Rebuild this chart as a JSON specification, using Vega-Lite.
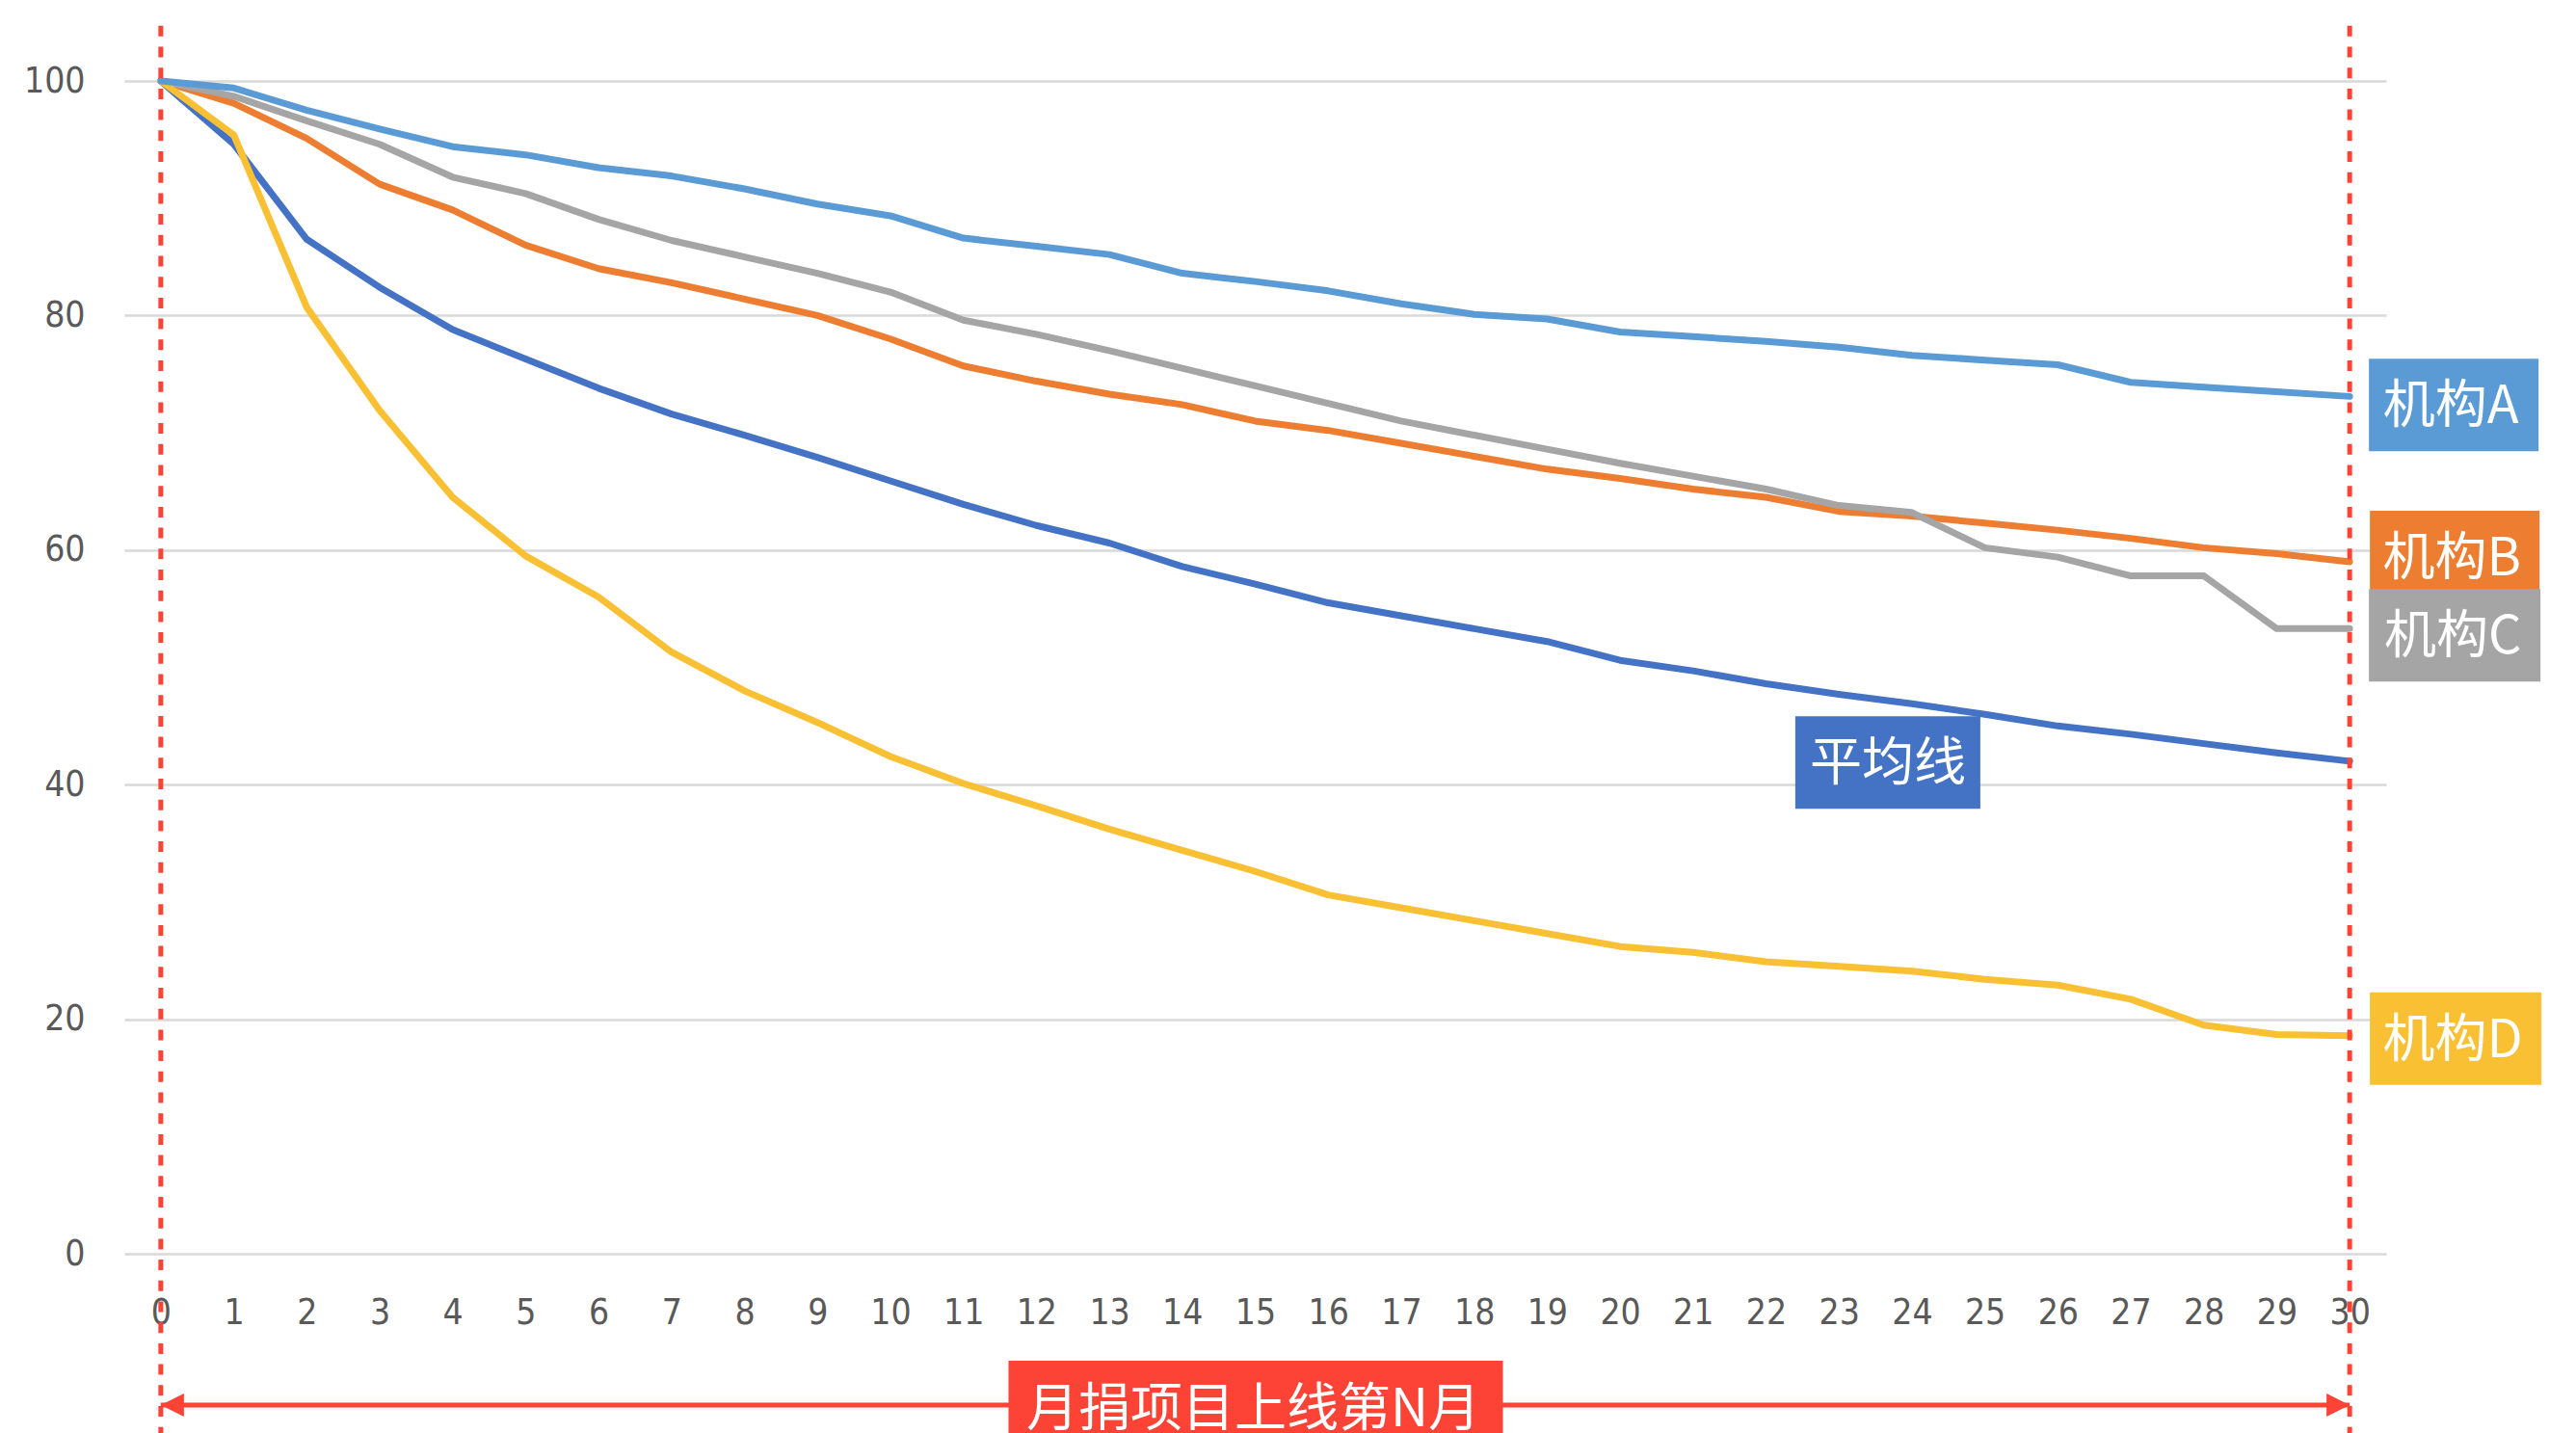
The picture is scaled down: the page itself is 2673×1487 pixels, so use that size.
{
  "$schema": "https://vega.github.io/schema/vega-lite/v6.json",
  "width": 2347,
  "height": 1217,
  "autosize": {"type": "none"},
  "padding": {"left": 129, "top": 84, "right": 197, "bottom": 186},
  "background": "white",
  "config": {"view": {"stroke": null}},
  "datasets": {
    "curves": [
      {"month":0,"series":"平均线","value":100},{"month":1,"series":"平均线","value":94.6},{"month":2,"series":"平均线","value":86.5},{"month":3,"series":"平均线","value":82.4},{"month":4,"series":"平均线","value":78.8},{"month":5,"series":"平均线","value":76.3},{"month":6,"series":"平均线","value":73.8},{"month":7,"series":"平均线","value":71.6},{"month":8,"series":"平均线","value":69.8},{"month":9,"series":"平均线","value":67.9},{"month":10,"series":"平均线","value":65.9},{"month":11,"series":"平均线","value":63.9},{"month":12,"series":"平均线","value":62.1},{"month":13,"series":"平均线","value":60.6},{"month":14,"series":"平均线","value":58.6},{"month":15,"series":"平均线","value":57.1},{"month":16,"series":"平均线","value":55.5},{"month":17,"series":"平均线","value":54.4},{"month":18,"series":"平均线","value":53.3},{"month":19,"series":"平均线","value":52.2},{"month":20,"series":"平均线","value":50.6},{"month":21,"series":"平均线","value":49.7},{"month":22,"series":"平均线","value":48.6},{"month":23,"series":"平均线","value":47.7},{"month":24,"series":"平均线","value":46.9},{"month":25,"series":"平均线","value":46.0},{"month":26,"series":"平均线","value":45.0},{"month":27,"series":"平均线","value":44.3},{"month":28,"series":"平均线","value":43.5},{"month":29,"series":"平均线","value":42.7},{"month":30,"series":"平均线","value":42.0},
      {"month":0,"series":"机构B","value":100},{"month":1,"series":"机构B","value":98.1},{"month":2,"series":"机构B","value":95.1},{"month":3,"series":"机构B","value":91.2},{"month":4,"series":"机构B","value":89.0},{"month":5,"series":"机构B","value":86.0},{"month":6,"series":"机构B","value":84.0},{"month":7,"series":"机构B","value":82.8},{"month":8,"series":"机构B","value":81.4},{"month":9,"series":"机构B","value":80.0},{"month":10,"series":"机构B","value":78.0},{"month":11,"series":"机构B","value":75.7},{"month":12,"series":"机构B","value":74.4},{"month":13,"series":"机构B","value":73.3},{"month":14,"series":"机构B","value":72.4},{"month":15,"series":"机构B","value":71.0},{"month":16,"series":"机构B","value":70.2},{"month":17,"series":"机构B","value":69.1},{"month":18,"series":"机构B","value":68.0},{"month":19,"series":"机构B","value":66.9},{"month":20,"series":"机构B","value":66.1},{"month":21,"series":"机构B","value":65.2},{"month":22,"series":"机构B","value":64.5},{"month":23,"series":"机构B","value":63.3},{"month":24,"series":"机构B","value":62.9},{"month":25,"series":"机构B","value":62.3},{"month":26,"series":"机构B","value":61.7},{"month":27,"series":"机构B","value":61.0},{"month":28,"series":"机构B","value":60.2},{"month":29,"series":"机构B","value":59.7},{"month":30,"series":"机构B","value":59.0},
      {"month":0,"series":"机构C","value":100},{"month":1,"series":"机构C","value":98.7},{"month":2,"series":"机构C","value":96.6},{"month":3,"series":"机构C","value":94.6},{"month":4,"series":"机构C","value":91.8},{"month":5,"series":"机构C","value":90.4},{"month":6,"series":"机构C","value":88.2},{"month":7,"series":"机构C","value":86.4},{"month":8,"series":"机构C","value":85.0},{"month":9,"series":"机构C","value":83.6},{"month":10,"series":"机构C","value":82.0},{"month":11,"series":"机构C","value":79.6},{"month":12,"series":"机构C","value":78.4},{"month":13,"series":"机构C","value":77.0},{"month":14,"series":"机构C","value":75.5},{"month":15,"series":"机构C","value":74.0},{"month":16,"series":"机构C","value":72.5},{"month":17,"series":"机构C","value":71.0},{"month":18,"series":"机构C","value":69.8},{"month":19,"series":"机构C","value":68.6},{"month":20,"series":"机构C","value":67.4},{"month":21,"series":"机构C","value":66.3},{"month":22,"series":"机构C","value":65.2},{"month":23,"series":"机构C","value":63.8},{"month":24,"series":"机构C","value":63.2},{"month":25,"series":"机构C","value":60.2},{"month":26,"series":"机构C","value":59.4},{"month":27,"series":"机构C","value":57.8},{"month":28,"series":"机构C","value":57.8},{"month":29,"series":"机构C","value":53.3},{"month":30,"series":"机构C","value":53.3},
      {"month":0,"series":"机构D","value":100},{"month":1,"series":"机构D","value":95.4},{"month":2,"series":"机构D","value":80.7},{"month":3,"series":"机构D","value":71.9},{"month":4,"series":"机构D","value":64.5},{"month":5,"series":"机构D","value":59.5},{"month":6,"series":"机构D","value":56.0},{"month":7,"series":"机构D","value":51.3},{"month":8,"series":"机构D","value":48.0},{"month":9,"series":"机构D","value":45.3},{"month":10,"series":"机构D","value":42.4},{"month":11,"series":"机构D","value":40.1},{"month":12,"series":"机构D","value":38.2},{"month":13,"series":"机构D","value":36.2},{"month":14,"series":"机构D","value":34.4},{"month":15,"series":"机构D","value":32.6},{"month":16,"series":"机构D","value":30.6},{"month":17,"series":"机构D","value":29.5},{"month":18,"series":"机构D","value":28.4},{"month":19,"series":"机构D","value":27.3},{"month":20,"series":"机构D","value":26.2},{"month":21,"series":"机构D","value":25.7},{"month":22,"series":"机构D","value":24.9},{"month":23,"series":"机构D","value":24.5},{"month":24,"series":"机构D","value":24.1},{"month":25,"series":"机构D","value":23.4},{"month":26,"series":"机构D","value":22.9},{"month":27,"series":"机构D","value":21.7},{"month":28,"series":"机构D","value":19.5},{"month":29,"series":"机构D","value":18.7},{"month":30,"series":"机构D","value":18.6},
      {"month":0,"series":"机构A","value":100},{"month":1,"series":"机构A","value":99.4},{"month":2,"series":"机构A","value":97.5},{"month":3,"series":"机构A","value":95.9},{"month":4,"series":"机构A","value":94.4},{"month":5,"series":"机构A","value":93.7},{"month":6,"series":"机构A","value":92.6},{"month":7,"series":"机构A","value":91.9},{"month":8,"series":"机构A","value":90.8},{"month":9,"series":"机构A","value":89.5},{"month":10,"series":"机构A","value":88.5},{"month":11,"series":"机构A","value":86.6},{"month":12,"series":"机构A","value":85.9},{"month":13,"series":"机构A","value":85.2},{"month":14,"series":"机构A","value":83.6},{"month":15,"series":"机构A","value":82.9},{"month":16,"series":"机构A","value":82.1},{"month":17,"series":"机构A","value":81.0},{"month":18,"series":"机构A","value":80.1},{"month":19,"series":"机构A","value":79.7},{"month":20,"series":"机构A","value":78.6},{"month":21,"series":"机构A","value":78.2},{"month":22,"series":"机构A","value":77.8},{"month":23,"series":"机构A","value":77.3},{"month":24,"series":"机构A","value":76.6},{"month":25,"series":"机构A","value":76.2},{"month":26,"series":"机构A","value":75.8},{"month":27,"series":"机构A","value":74.3},{"month":28,"series":"机构A","value":73.9},{"month":29,"series":"机构A","value":73.5},{"month":30,"series":"机构A","value":73.1}
    ]
  },
  "layer": [
    {
      "data": {"name": "curves"},
      "mark": {"type": "line", "strokeWidth": 7, "strokeJoin": "round", "strokeCap": "round"},
      "encoding": {
        "x": {
          "field": "month", "type": "quantitative",
          "scale": {"domain": [-0.5, 30.5], "nice": false, "zero": false},
          "axis": {
            "values": [0,1,2,3,4,5,6,7,8,9,10,11,12,13,14,15,16,17,18,19,20,21,22,23,24,25,26,27,28,29,30],
            "format": "d",
            "title": null, "grid": false, "domain": false, "ticks": false, "tickSize": 0,
            "labelPadding": 43, "labelFont": "Liberation Sans Narrow, DejaVu Sans Condensed, Liberation Sans",
            "labelFontSize": 37, "labelColor": "#595959", "labelFlush": false, "labelOverlap": false, "labelBound": false
          }
        },
        "y": {
          "field": "value", "type": "quantitative",
          "scale": {"domain": [0, 100], "nice": false, "zero": true},
          "axis": {
            "values": [0, 20, 40, 60, 80, 100],
            "format": "d",
            "title": null, "grid": true, "gridColor": "#D9D9D9", "gridWidth": 2.5,
            "domain": false, "ticks": false, "tickSize": 0, "labelPadding": 41,
            "labelFont": "Liberation Sans Narrow, DejaVu Sans Condensed, Liberation Sans",
            "labelFontSize": 37, "labelColor": "#595959", "labelBaseline": "middle"
          }
        },
        "color": {
          "field": "series", "type": "nominal", "legend": null,
          "scale": {"domain": ["平均线", "机构A", "机构B", "机构C", "机构D"], "range": ["#4472C4", "#5B9BD5", "#ED7D31", "#A5A5A5", "#F8C032"]}
        }
      }
    },
    {
      "data": {"values": [{"month": 0}, {"month": 30}]},
      "mark": {"type": "rule", "color": "#FD4236", "strokeWidth": 5, "strokeDash": [11, 10.7], "strokeCap": "butt"},
      "encoding": {
        "x": {"field": "month", "type": "quantitative", "scale": {"domain": [-0.5, 30.5], "nice": false, "zero": false}},
        "y": {"datum": 104.7, "type": "quantitative", "scale": {"domain": [0, 100], "nice": false, "zero": true}},
        "y2": {"datum": -16}
      }
    },
    {
      "data": {"values": [{"from": 0, "to": 30}]},
      "mark": {"type": "rule", "color": "#FD4236", "strokeWidth": 5},
      "encoding": {
        "x": {"field": "from", "type": "quantitative"},
        "x2": {"field": "to"},
        "y": {"datum": -12.9, "type": "quantitative"}
      }
    },
    {
      "data": {"values": [{"month": 0}]},
      "mark": {"type": "point", "shape": "M-1,0L1,-1L1,1Z", "size": 576, "filled": true, "opacity": 1, "color": "#FD4236", "xOffset": 12},
      "encoding": {
        "x": {"field": "month", "type": "quantitative"},
        "y": {"datum": -12.9, "type": "quantitative"}
      }
    },
    {
      "data": {"values": [{"month": 30}]},
      "mark": {"type": "point", "shape": "M1,0L-1,-1L-1,1Z", "size": 576, "filled": true, "opacity": 1, "color": "#FD4236", "xOffset": -12},
      "encoding": {
        "x": {"field": "month", "type": "quantitative"},
        "y": {"datum": -12.9, "type": "quantitative"}
      }
    },
    {
      "data": {"values": [{"label": "月捐项目上线第N月", "month": 15, "pos": -12.9}]},
      "mark": {"type": "rect", "color": "#FD4236", "xOffset": -256, "x2Offset": 257, "yOffset": -46, "y2Offset": 40},
      "encoding": {
        "x": {"field": "month", "type": "quantitative"},
        "x2": {"field": "month"},
        "y": {"field": "pos", "type": "quantitative"},
        "y2": {"field": "pos"}
      }
    },
    {
      "data": {"values": [{"label": "月捐项目上线第N月", "month": 15, "pos": -12.9}]},
      "mark": {"type": "text", "color": "white", "font": "Noto Sans CJK SC", "fontSize": 54, "align": "center", "baseline": "alphabetic", "dx": -2, "dy": 22},
      "encoding": {
        "x": {"field": "month", "type": "quantitative"},
        "y": {"field": "pos", "type": "quantitative"},
        "text": {"field": "label"}
      }
    },
    {
      "data": {"name": "curves"},
      "transform": [{"filter": "datum.month == 30 && datum.series == '机构A'"}],
      "mark": {"type": "rect", "xOffset": 20, "x2Offset": 196, "yOffset": -39, "y2Offset": 57},
      "encoding": {
        "x": {"field": "month", "type": "quantitative"}, "x2": {"field": "month"},
        "y": {"field": "value", "type": "quantitative"}, "y2": {"field": "value"},
        "color": {"field": "series", "type": "nominal", "legend": null}
      }
    },
    {
      "data": {"name": "curves"},
      "transform": [{"filter": "datum.month == 30 && datum.series == '机构A'"}],
      "mark": {"type": "text", "color": "white", "font": "Noto Sans CJK SC", "fontSize": 54, "align": "center", "baseline": "alphabetic", "dx": 105, "dy": 28},
      "encoding": {
        "x": {"field": "month", "type": "quantitative"},
        "y": {"field": "value", "type": "quantitative"},
        "text": {"field": "series"}
      }
    },
    {
      "data": {"name": "curves"},
      "transform": [{"filter": "datum.month == 30 && datum.series == '机构B'"}],
      "mark": {"type": "rect", "xOffset": 21, "x2Offset": 197, "yOffset": -53, "y2Offset": 43},
      "encoding": {
        "x": {"field": "month", "type": "quantitative"}, "x2": {"field": "month"},
        "y": {"field": "value", "type": "quantitative"}, "y2": {"field": "value"},
        "color": {"field": "series", "type": "nominal", "legend": null}
      }
    },
    {
      "data": {"name": "curves"},
      "transform": [{"filter": "datum.month == 30 && datum.series == '机构B'"}],
      "mark": {"type": "text", "color": "white", "font": "Noto Sans CJK SC", "fontSize": 54, "align": "center", "baseline": "alphabetic", "dx": 106, "dy": 14},
      "encoding": {
        "x": {"field": "month", "type": "quantitative"},
        "y": {"field": "value", "type": "quantitative"},
        "text": {"field": "series"}
      }
    },
    {
      "data": {"name": "curves"},
      "transform": [{"filter": "datum.month == 30 && datum.series == '机构C'"}],
      "mark": {"type": "rect", "xOffset": 20, "x2Offset": 198, "yOffset": -41, "y2Offset": 55},
      "encoding": {
        "x": {"field": "month", "type": "quantitative"}, "x2": {"field": "month"},
        "y": {"field": "value", "type": "quantitative"}, "y2": {"field": "value"},
        "color": {"field": "series", "type": "nominal", "legend": null}
      }
    },
    {
      "data": {"name": "curves"},
      "transform": [{"filter": "datum.month == 30 && datum.series == '机构C'"}],
      "mark": {"type": "text", "color": "white", "font": "Noto Sans CJK SC", "fontSize": 54, "align": "center", "baseline": "alphabetic", "dx": 107, "dy": 26},
      "encoding": {
        "x": {"field": "month", "type": "quantitative"},
        "y": {"field": "value", "type": "quantitative"},
        "text": {"field": "series"}
      }
    },
    {
      "data": {"name": "curves"},
      "transform": [{"filter": "datum.month == 30 && datum.series == '机构D'"}],
      "mark": {"type": "rect", "xOffset": 21, "x2Offset": 199, "yOffset": -45, "y2Offset": 51},
      "encoding": {
        "x": {"field": "month", "type": "quantitative"}, "x2": {"field": "month"},
        "y": {"field": "value", "type": "quantitative"}, "y2": {"field": "value"},
        "color": {"field": "series", "type": "nominal", "legend": null}
      }
    },
    {
      "data": {"name": "curves"},
      "transform": [{"filter": "datum.month == 30 && datum.series == '机构D'"}],
      "mark": {"type": "text", "color": "white", "font": "Noto Sans CJK SC", "fontSize": 54, "align": "center", "baseline": "alphabetic", "dx": 107, "dy": 22},
      "encoding": {
        "x": {"field": "month", "type": "quantitative"},
        "y": {"field": "value", "type": "quantitative"},
        "text": {"field": "series"}
      }
    },
    {
      "data": {"name": "curves"},
      "transform": [{"filter": "datum.month == 24 && datum.series == '平均线'"}],
      "mark": {"type": "rect", "xOffset": -121, "x2Offset": 71, "yOffset": 13, "y2Offset": 109},
      "encoding": {
        "x": {"field": "month", "type": "quantitative"}, "x2": {"field": "month"},
        "y": {"field": "value", "type": "quantitative"}, "y2": {"field": "value"},
        "color": {"field": "series", "type": "nominal", "legend": null}
      }
    },
    {
      "data": {"name": "curves"},
      "transform": [{"filter": "datum.month == 24 && datum.series == '平均线'"}],
      "mark": {"type": "text", "color": "white", "font": "Noto Sans CJK SC", "fontSize": 54, "align": "center", "baseline": "alphabetic", "dx": -25, "dy": 80},
      "encoding": {
        "x": {"field": "month", "type": "quantitative"},
        "y": {"field": "value", "type": "quantitative"},
        "text": {"field": "series"}
      }
    }
  ]
}
